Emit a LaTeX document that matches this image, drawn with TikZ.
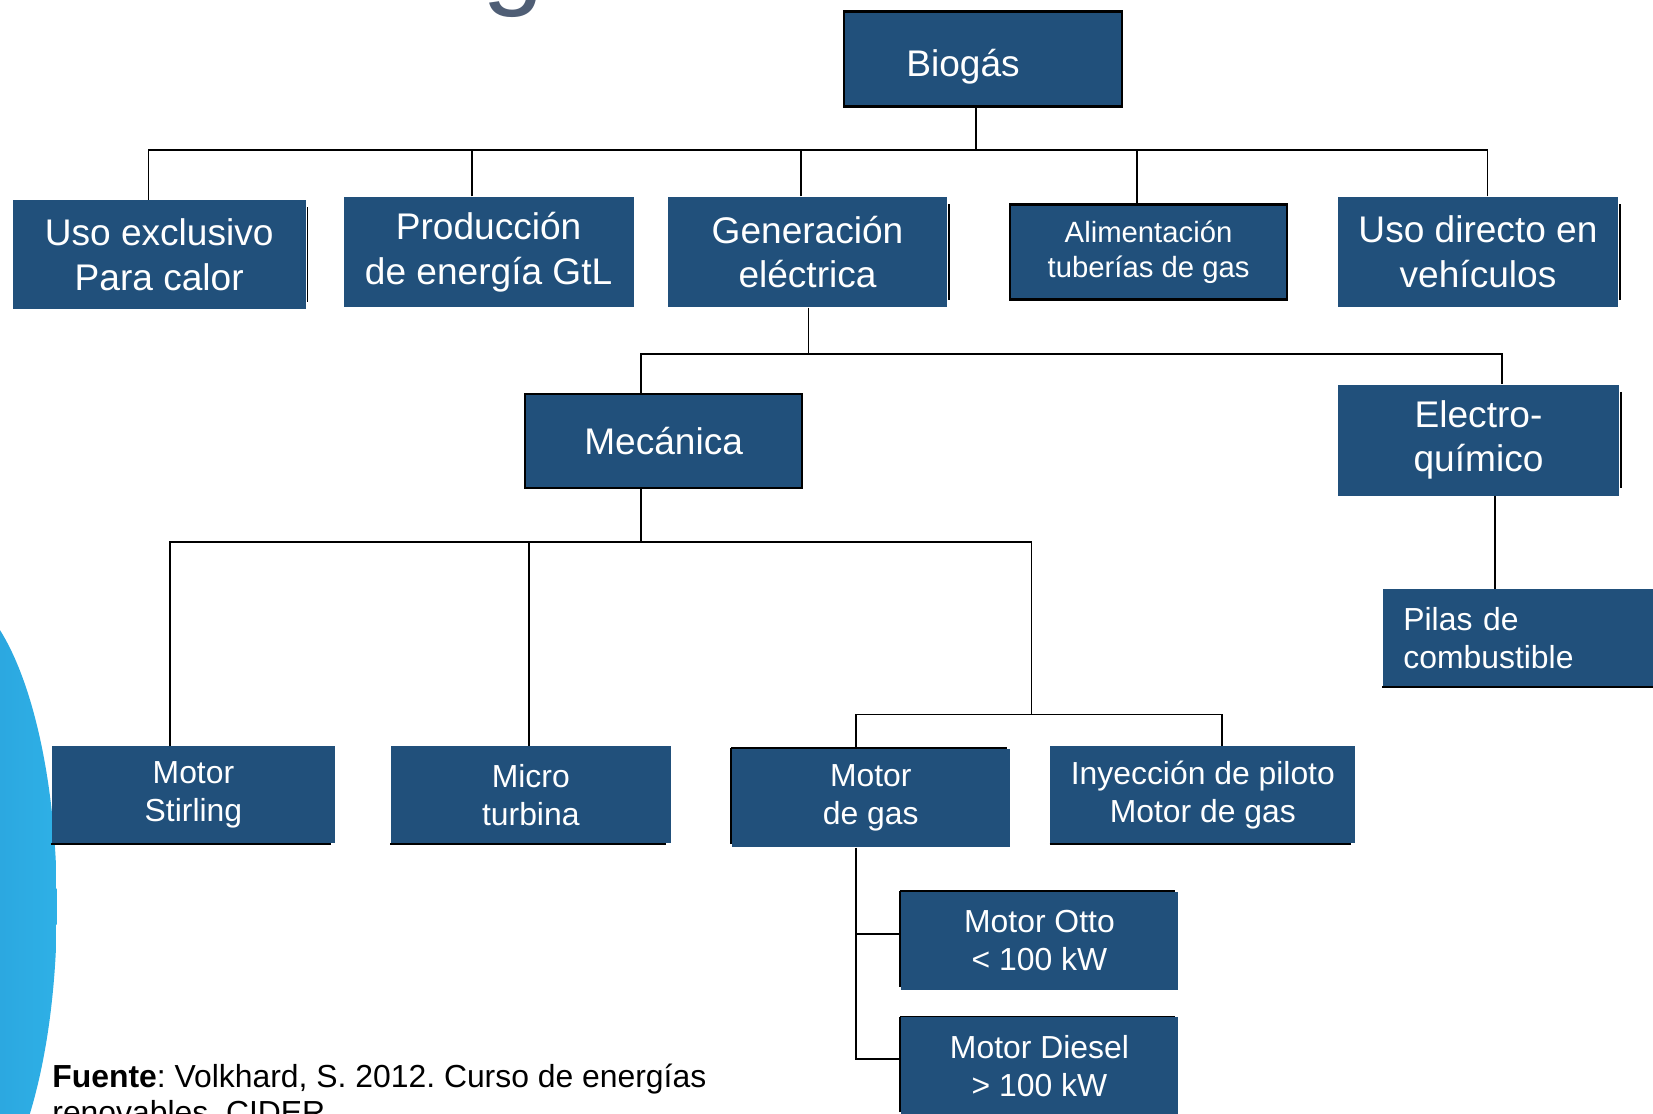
\documentclass[tikz,border=0pt]{standalone}
\usepackage{fontspec}
\setmainfont{Liberation Sans}
\usepackage{xcolor}
\definecolor{boxBlue}{HTML}{21507B}
\definecolor{titleGray}{HTML}{4F5E75}
\definecolor{bubbleDark}{HTML}{2690CF}
\definecolor{bubbleLight}{HTML}{2EB0E6}
\usepackage{tikz}
\usetikzlibrary{calc}
\tikzset{
  orgbox/.style={
    fill=boxBlue,
    text=white,
    align=center,
    inner sep=0pt,
    font=\fontsize{8.6}{10.3}\selectfont
  },
  orgbig/.style={
    orgbox,
    font=\fontsize{10}{12}\selectfont
  },
  orgsmall/.style={
    orgbox,
    font=\fontsize{7.9}{9.4}\selectfont
  },
  orgframe/.style={
    draw=black,
    line width=0.6pt
  },
  orgline/.style={
    draw=black,
    line width=0.45pt
  },
  boxedge/.style={
    draw=black,
    line width=0.45pt
  },
  edgeright/.style={
    append after command={\pgfextra{\let\orgnode\tikzlastnode}
      ([xshift=0.01cm,yshift=-0.075cm]\orgnode.north east) edge[boxedge] ([xshift=0.01cm,yshift=0.075cm]\orgnode.south east)}
  },
  edgebottom/.style={
    append after command={\pgfextra{\let\orgnode\tikzlastnode}
      (\orgnode.south west) edge[boxedge] ([xshift=-0.05cm]\orgnode.south east)}
  },
  edgetopleft/.style={
    append after command={\pgfextra{\let\orgnode\tikzlastnode}
      ([yshift=0.035cm]\orgnode.south west) edge[boxedge] (\orgnode.north west)
      (\orgnode.north west) edge[boxedge] ([xshift=-0.03cm]\orgnode.north east)}
  }
}

\begin{document}
\begin{tikzpicture}[x=0.01cm,y=-0.01cm]
  \useasboundingbox (0,0) rectangle (1568,1056);
  % slide background bits
  \shade[left color=bubbleDark,right color=bubbleLight] (-51,860) ellipse [x radius=105,y radius=300];
  \node[text=titleGray,font=\fontsize{30}{36}\selectfont,anchor=base,inner sep=0pt] (title) at (487,-5) {g};
  % root and first level
  \node[orgbig,orgframe,minimum width=2.63cm,minimum height=0.90cm] (biogas) at (932.5,56) {\hspace*{-0.38cm}\raisebox{-0.07cm}[\height][\depth]{Biogás}};
  \node[orgbig,edgeright,minimum width=2.78cm,minimum height=1.03cm] (calor) at (151,241.5) {Uso exclusivo\\Para calor};
  \node[orgbig,minimum width=2.75cm,minimum height=1.04cm] (gtl) at (463.5,239) {Producción\\de energía GtL};
  \node[orgbig,edgeright,minimum width=2.65cm,minimum height=1.04cm] (gen) at (766,239) {Generación\\eléctrica};
  \node[orgsmall,orgframe,minimum width=2.63cm,minimum height=0.90cm] (alim) at (1089.5,239) {Alimentación\\tuberías de gas};
  \node[orgbig,edgeright,minimum width=2.66cm,minimum height=1.04cm] (vehic) at (1402,239) {Uso directo en\\vehículos};
  % generation branch
  \node[orgbig,orgframe,minimum width=2.63cm,minimum height=0.89cm] (mec) at (629.5,418.5) {Mecánica};
  \node[orgbig,edgeright,minimum width=2.67cm,minimum height=1.05cm] (electro) at (1402.5,417.5) {Electro-\\químico};
  \node[orgbox,edgebottom,align=left,text width=2.29cm,inner xsep=0.195cm,minimum height=0.92cm] (pilas) at (1445.8,605) {Pilas de\\combustible};
  \node[orgbox,edgebottom,minimum width=2.69cm,minimum height=0.92cm] (stirling) at (183.5,754) {Motor\\Stirling};
  \node[orgbox,edgebottom,minimum width=2.65cm,minimum height=0.92cm] (micro) at (503.5,754) {Micro\\turbina};
  \node[orgbox,edgetopleft,minimum width=2.635cm,minimum height=0.93cm] (motorgas) at (826,757) {Motor\\de gas};
  \node[orgbox,edgebottom,minimum width=2.89cm,minimum height=0.92cm] (piloto) at (1141,754) {Inyección de piloto\\Motor de gas};
  \node[orgbox,edgetopleft,minimum width=2.625cm,minimum height=0.93cm] (otto) at (986,892.5) {Motor Otto\\< 100 kW};
  \node[orgbox,edgetopleft,minimum width=2.625cm,minimum height=0.93cm] (diesel) at (986,1011.5) {Motor Diesel\\> 100 kW};
  % source
  \node[anchor=base west,align=left,inner sep=0pt,font=\fontsize{8.6}{9.9}\selectfont\frenchspacing] (source) at (49,1066) {\textbf{Fuente}: Volkhard, S. 2012. Curso de energías\\renovables. CIDER.};
  % connectors
  \coordinate (busA) at (926,142);
  \coordinate (busB) at (767,336);
  \coordinate (busC) at (608,514);
  \coordinate (busD) at (978.6,677.6);
  \draw[orgline] ($(biogas.south)+(-6.5,0)$) -- (busA);
  \foreach \child/\dx in {calor/-10,gtl/-15.5,gen/-6.5,alim/-11,vehic/9}
    \draw[orgline] ($(\child.north)+(\dx,0)$) |- (busA);
  \draw[orgline] ($(gen.south)+(1,0)$) -- (busB);
  \foreach \child/\dx in {mec/-21.5,electro/22.5}
    \draw[orgline] ($(\child.north)+(\dx,0)$) |- (busB);
  \draw[orgline] ($(mec.south)+(-21.5,0)$) -- (busC);
  \foreach \child/\dx in {stirling/-22.5,micro/-1.5}
    \draw[orgline] ($(\child.north)+(\dx,0)$) |- (busC);
  \draw[orgline] (busD) |- (busC);
  \foreach \child/\dx in {motorgas/-14,piloto/18}
    \draw[orgline] ($(\child.north)+(\dx,0)$) |- (busD);
  \foreach \child/\dy in {otto/-6.5,diesel/-7}
    \draw[orgline] ($(motorgas.south)+(-14,0)$) |- ($(\child.west)+(0,\dy)$);
  \draw[orgline] ($(electro.south)+(15.5,0)$) coordinate (eDrop) -- (eDrop |- pilas.north);
\end{tikzpicture}
\end{document}
